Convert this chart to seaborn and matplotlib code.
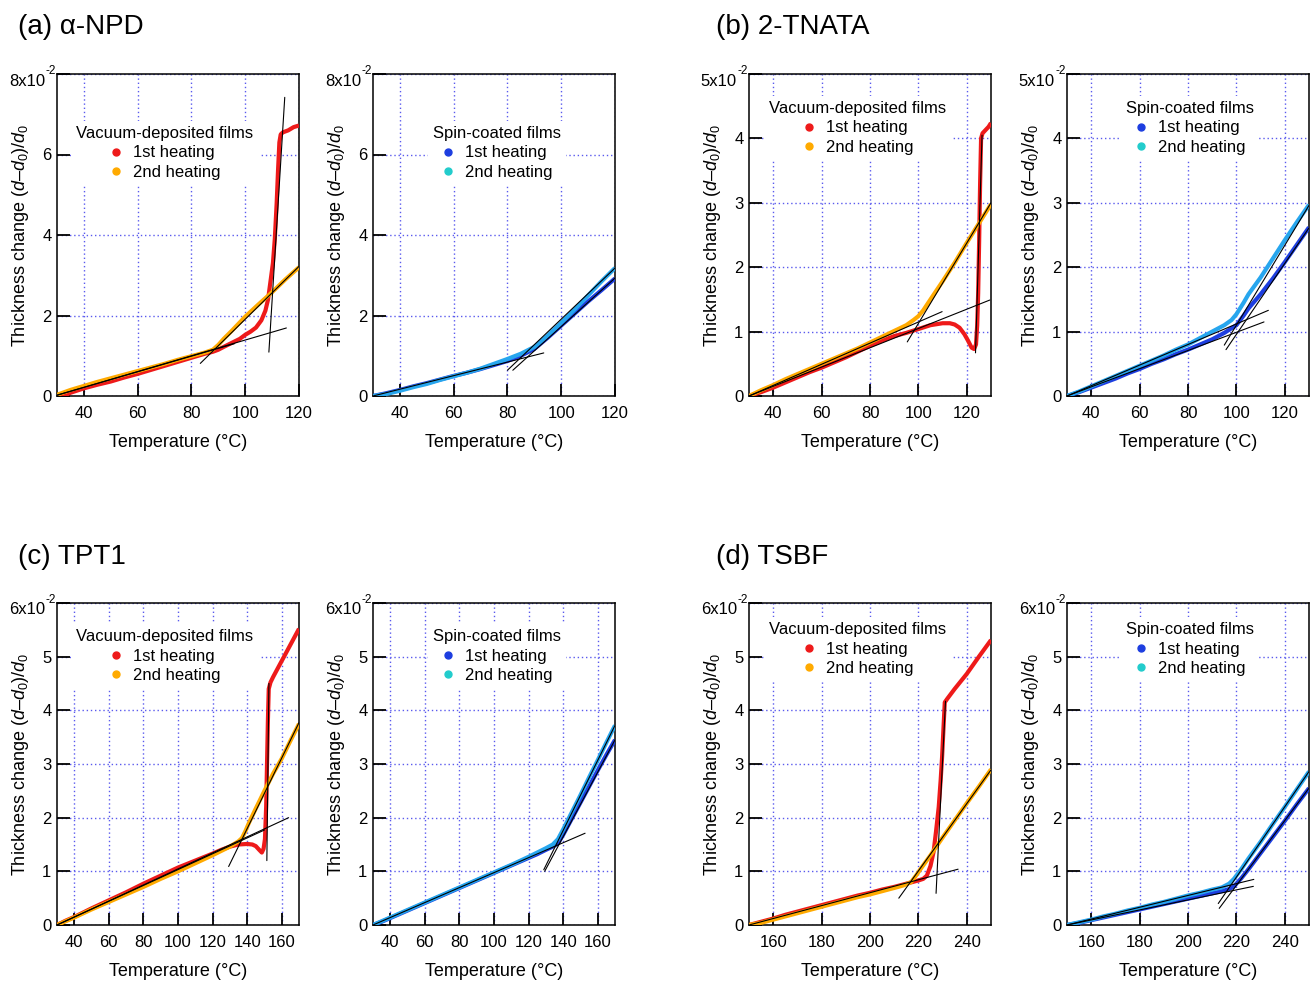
import matplotlib
matplotlib.use("Agg")
import matplotlib.pyplot as plt
from matplotlib.lines import Line2D
from matplotlib.ticker import FixedLocator, FixedFormatter
import pandas as pd
import seaborn as sns

# ---------------------------------------------------------------------------
# Thickness change (d - d0)/d0, stored in units of 1e-2, versus temperature (°C)
# ---------------------------------------------------------------------------

# (a) alpha-NPD, vacuum-deposited
npd_vac1_T = [30, 33, 35, 40, 45, 50, 55, 60, 65, 70, 75, 80, 85, 88, 90, 92, 95, 98, 100,
              102, 104, 106, 107.5, 108.5, 109.5, 110.3, 111, 111.7, 112.2, 112.7, 113.2,
              114, 116, 118, 120]
npd_vac1_y = [0.0, 0.02, 0.08, 0.19, 0.28, 0.36, 0.46, 0.55, 0.65, 0.75, 0.85, 0.95, 1.05,
              1.1, 1.15, 1.22, 1.32, 1.42, 1.52, 1.6, 1.7, 1.88, 2.12, 2.4, 2.9, 3.3, 3.9,
              4.8, 5.6, 6.3, 6.5, 6.55, 6.6, 6.68, 6.72]
npd_vac2_T = [30, 35, 40, 45, 50, 55, 60, 65, 70, 75, 80, 85, 88, 90, 92, 95, 100, 105, 110,
              115, 120]
npd_vac2_y = [0.03, 0.15, 0.25, 0.35, 0.44, 0.53, 0.62, 0.71, 0.8, 0.9, 0.99, 1.08, 1.15,
              1.27, 1.42, 1.62, 1.97, 2.28, 2.58, 2.9, 3.2]
npd_vac_fit_T = [[30, 115.3], [30, 96], [83.3, 120], [108.8, 114.7]]
npd_vac_fit_y = [[0.02, 1.69], [0.02, 1.3], [0.81, 3.22], [1.09, 7.42]]

# (a) alpha-NPD, spin-coated
npd_spin1_T = [30, 35, 40, 45, 50, 55, 60, 65, 70, 75, 80, 85, 90, 95, 100, 105, 110, 115, 120]
npd_spin1_y = [0.0, 0.07, 0.15, 0.24, 0.32, 0.41, 0.5, 0.58, 0.67, 0.77, 0.87, 1.0, 1.17,
               1.45, 1.75, 2.05, 2.35, 2.63, 2.92]
npd_spin2_T = [30, 35, 40, 45, 50, 55, 60, 65, 70, 75, 80, 85, 90, 95, 100, 105, 110, 115, 120]
npd_spin2_y = [0.0, 0.05, 0.13, 0.22, 0.3, 0.4, 0.49, 0.58, 0.68, 0.8, 0.92, 1.05, 1.22,
               1.5, 1.82, 2.15, 2.5, 2.85, 3.18]
npd_spin_fit_T = [[30, 93.5], [80, 120], [82, 120]]
npd_spin_fit_y = [[0.0, 1.07], [0.64, 3.18], [0.64, 2.93]]

# (b) 2-TNATA, vacuum-deposited
tnata_vac1_T = [30, 35, 40, 45, 50, 55, 60, 65, 70, 75, 80, 85, 90, 95, 100, 105, 110, 113,
                115, 117, 119, 120.5, 122, 123, 123.8, 124.3, 124.7, 125.1, 125.5, 125.9,
                126.5, 127.5, 129, 130]
tnata_vac1_y = [0.0, 0.06, 0.13, 0.21, 0.29, 0.37, 0.44, 0.52, 0.6, 0.69, 0.78, 0.86, 0.93,
                0.98, 1.04, 1.1, 1.13, 1.13, 1.11, 1.06, 0.96, 0.86, 0.75, 0.73, 0.8, 1.1,
                1.6, 2.4, 3.3, 4.0, 4.08, 4.12, 4.18, 4.24]
tnata_vac2_T = [30, 35, 40, 45, 50, 55, 60, 65, 70, 75, 80, 85, 90, 95, 98, 100, 102, 105,
                110, 115, 120, 125, 130]
tnata_vac2_y = [0.0, 0.09, 0.17, 0.26, 0.34, 0.42, 0.5, 0.58, 0.66, 0.74, 0.83, 0.92, 1.01,
                1.1, 1.18, 1.24, 1.33, 1.5, 1.78, 2.07, 2.38, 2.68, 2.98]
tnata_vac_fit_T = [[30, 109.8], [30, 129.5], [95.4, 130], [123.6, 126.3]]
tnata_vac_fit_y = [[0.0, 1.31], [0.0, 1.49], [0.84, 3.0], [0.67, 4.05]]

# (b) 2-TNATA, spin-coated
tnata_spin1_T = [30, 35, 40, 45, 50, 55, 60, 65, 70, 75, 80, 85, 90, 95, 100, 103, 105, 110,
                 115, 120, 125, 130]
tnata_spin1_y = [0.0, 0.06, 0.13, 0.2, 0.27, 0.35, 0.42, 0.5, 0.57, 0.65, 0.72, 0.8, 0.88,
                 0.98, 1.1, 1.25, 1.36, 1.58, 1.82, 2.08, 2.35, 2.62]
tnata_spin2_T = [30, 35, 40, 45, 50, 55, 60, 65, 70, 75, 80, 85, 90, 95, 98, 100, 103, 105,
                 110, 115, 120, 125, 130]
tnata_spin2_y = [0.0, 0.07, 0.15, 0.23, 0.31, 0.39, 0.47, 0.55, 0.63, 0.72, 0.8, 0.9, 1.0,
                 1.1, 1.18, 1.27, 1.45, 1.58, 1.84, 2.13, 2.42, 2.7, 2.97]
tnata_spin_fit_T = [[30, 113.2], [30, 111.4], [95, 130], [95.7, 130]]
tnata_spin_fit_y = [[0.0, 1.33], [0.0, 1.15], [0.79, 2.96], [0.72, 2.61]]

# (c) TPT1, vacuum-deposited
tpt_vac1_T = [30, 35, 40, 50, 60, 70, 80, 90, 100, 110, 120, 125, 130, 135, 140, 143, 145,
              147, 148.5, 149.5, 150.3, 151, 151.5, 152, 152.5, 153.5, 155, 160, 165, 170]
tpt_vac1_y = [0.0, 0.08, 0.15, 0.31, 0.46, 0.61, 0.77, 0.92, 1.07, 1.2, 1.33, 1.4, 1.46,
              1.5, 1.51, 1.5, 1.47, 1.4, 1.35, 1.42, 1.6, 2.2, 3.0, 3.8, 4.4, 4.52, 4.62,
              4.92, 5.22, 5.52]
tpt_vac2_T = [30, 35, 40, 50, 60, 70, 80, 90, 100, 110, 120, 125, 130, 135, 137, 139, 141,
              145, 150, 155, 160, 165, 170]
tpt_vac2_y = [0.0, 0.07, 0.14, 0.29, 0.43, 0.57, 0.71, 0.86, 1.0, 1.15, 1.3, 1.38, 1.46,
              1.56, 1.62, 1.75, 1.9, 2.17, 2.5, 2.82, 3.1, 3.43, 3.75]
tpt_vac_fit_T = [[30, 164], [30, 150], [129.3, 170], [151.4, 152.6]]
tpt_vac_fit_y = [[0.0, 2.0], [0.0, 1.77], [1.09, 3.77], [1.2, 4.5]]

# (c) TPT1, spin-coated
tpt_spin1_T = [30, 35, 40, 50, 60, 70, 80, 90, 100, 110, 120, 125, 130, 134, 137, 140, 145,
               150, 155, 160, 165, 170]
tpt_spin1_y = [0.0, 0.06, 0.13, 0.27, 0.41, 0.55, 0.69, 0.83, 0.97, 1.11, 1.25, 1.32, 1.4,
               1.46, 1.52, 1.68, 1.98, 2.28, 2.58, 2.88, 3.17, 3.45]
tpt_spin2_T = [30, 35, 40, 50, 60, 70, 80, 90, 100, 110, 120, 125, 130, 134, 137, 140, 145,
               150, 155, 160, 165, 170]
tpt_spin2_y = [0.0, 0.07, 0.14, 0.28, 0.42, 0.56, 0.7, 0.84, 0.98, 1.12, 1.27, 1.35, 1.43,
               1.5, 1.6, 1.78, 2.1, 2.42, 2.75, 3.07, 3.4, 3.72]
tpt_spin_fit_T = [[30, 152.7], [128.8, 170], [129.3, 170]]
tpt_spin_fit_y = [[0.0, 1.71], [1.03, 3.72], [1.0, 3.45]]

# (d) TSBF, vacuum-deposited
tsbf_vac1_T = [150, 155, 160, 165, 170, 175, 180, 185, 190, 195, 200, 205, 210, 215, 220,
               222, 223.5, 225, 226.3, 227.3, 228.4, 229.2, 229.8, 230.4, 230.9, 232, 235,
               240, 245, 250]
tsbf_vac1_y = [0.0, 0.06, 0.12, 0.19, 0.25, 0.31, 0.37, 0.43, 0.49, 0.55, 0.6, 0.66, 0.71,
               0.77, 0.83, 0.86, 0.92, 1.1, 1.37, 1.75, 2.2, 2.7, 3.14, 3.7, 4.15, 4.22,
               4.4, 4.68, 5.0, 5.31]
tsbf_vac2_T = [150, 155, 160, 165, 170, 175, 180, 185, 190, 195, 200, 205, 210, 214, 217,
               219, 221, 225, 230, 235, 240, 245, 250]
tsbf_vac2_y = [0.0, 0.04, 0.1, 0.16, 0.22, 0.28, 0.34, 0.4, 0.46, 0.52, 0.57, 0.63, 0.69,
               0.74, 0.8, 0.92, 1.05, 1.3, 1.63, 1.95, 2.27, 2.58, 2.9]
tsbf_vac_fit_T = [[150, 236.4], [211.9, 250], [227.3, 231.2]]
tsbf_vac_fit_y = [[0.0, 1.04], [0.5, 2.89], [0.59, 4.17]]

# (d) TSBF, spin-coated
tsbf_spin1_T = [150, 155, 160, 165, 170, 175, 180, 185, 190, 195, 200, 205, 210, 214, 217,
                219, 222, 225, 230, 235, 240, 245, 250]
tsbf_spin1_y = [0.0, 0.04, 0.09, 0.14, 0.19, 0.24, 0.29, 0.34, 0.39, 0.44, 0.49, 0.54, 0.59,
                0.63, 0.67, 0.72, 0.87, 1.04, 1.34, 1.64, 1.94, 2.25, 2.55]
tsbf_spin2_T = [150, 155, 160, 165, 170, 175, 180, 185, 190, 195, 200, 205, 210, 214, 217,
                219, 222, 225, 230, 235, 240, 245, 250]
tsbf_spin2_y = [0.0, 0.05, 0.1, 0.16, 0.21, 0.27, 0.32, 0.38, 0.43, 0.49, 0.55, 0.6, 0.66,
                0.7, 0.77, 0.86, 1.04, 1.24, 1.55, 1.88, 2.2, 2.53, 2.86]
tsbf_spin_fit_T = [[150, 227.2], [150, 227], [212.5, 250], [212.9, 250]]
tsbf_spin_fit_y = [[0.0, 0.85], [0.0, 0.72], [0.4, 2.86], [0.31, 2.55]]

# Panel titles, legend text and axis ticks
panel_titles = ["(a) α-NPD", "(b) 2-TNATA", "(c) TPT1", "(d) TSBF"]
legend_titles = ["Vacuum-deposited films", "Spin-coated films"]
series_labels = ["1st heating", "2nd heating"]
xlabel_text = "Temperature (°C)"
ylabel_text = r"Thickness change ($d$–$d_0$)/$d_0$"

xlims = [(30, 120), (30, 130), (30, 170), (150, 250)]
xticks = [[40, 60, 80, 100, 120], [40, 60, 80, 100, 120],
          [40, 60, 80, 100, 120, 140, 160], [160, 180, 200, 220, 240]]
ytops = [8, 5, 6, 6]
yticks = [[0, 2, 4, 6, 8], [0, 1, 2, 3, 4, 5], [0, 1, 2, 3, 4, 5, 6], [0, 1, 2, 3, 4, 5, 6]]
# the top tick carries the scale factor, written as mantissa + exponent
ytick_labels = [["0", "2", "4", "6", ""],
                ["0", "1", "2", "3", "4", ""],
                ["0", "1", "2", "3", "4", "5", ""],
                ["0", "1", "2", "3", "4", "5", ""]]
top_mantissa = ["8x10", "5x10", "6x10", "6x10"]
top_exponent = "-2"

# ---------------------------------------------------------------------------
sns.set_theme(style="white")
plt.rcParams["font.family"] = ["Liberation Sans", "DejaVu Sans"]
plt.rcParams["mathtext.fontset"] = "custom"
plt.rcParams["mathtext.rm"] = "Liberation Sans"
plt.rcParams["mathtext.it"] = "Liberation Sans:italic"

RED, ORANGE = "#ee1a1a", "#ffaa00"
BLUE, SKY = "#1d3ee0", "#27a6ee"
LEG_CYAN = "#22cccc"
GRID = "#5a5aee"

W, H = 1311, 983
fig = plt.figure(figsize=(W / 100, H / 100), dpi=100)
fig.patch.set_facecolor("white")

col_left = [57, 373, 749, 1067]
ax_w = 242
row_top = [74, 603]
ax_h = 322

panels = [
    # (panel index, column, row, kind, series1, series2, fits)
    (0, 0, 0, "vac", (npd_vac1_T, npd_vac1_y), (npd_vac2_T, npd_vac2_y), (npd_vac_fit_T, npd_vac_fit_y)),
    (0, 1, 0, "spin", (npd_spin1_T, npd_spin1_y), (npd_spin2_T, npd_spin2_y), (npd_spin_fit_T, npd_spin_fit_y)),
    (1, 2, 0, "vac", (tnata_vac1_T, tnata_vac1_y), (tnata_vac2_T, tnata_vac2_y), (tnata_vac_fit_T, tnata_vac_fit_y)),
    (1, 3, 0, "spin", (tnata_spin1_T, tnata_spin1_y), (tnata_spin2_T, tnata_spin2_y), (tnata_spin_fit_T, tnata_spin_fit_y)),
    (2, 0, 1, "vac", (tpt_vac1_T, tpt_vac1_y), (tpt_vac2_T, tpt_vac2_y), (tpt_vac_fit_T, tpt_vac_fit_y)),
    (2, 1, 1, "spin", (tpt_spin1_T, tpt_spin1_y), (tpt_spin2_T, tpt_spin2_y), (tpt_spin_fit_T, tpt_spin_fit_y)),
    (3, 2, 1, "vac", (tsbf_vac1_T, tsbf_vac1_y), (tsbf_vac2_T, tsbf_vac2_y), (tsbf_vac_fit_T, tsbf_vac_fit_y)),
    (3, 3, 1, "spin", (tsbf_spin1_T, tsbf_spin1_y), (tsbf_spin2_T, tsbf_spin2_y), (tsbf_spin_fit_T, tsbf_spin_fit_y)),
]

# legend block centres (figure pixels)
legend_centres = {
    (0, 0): (165, 153), (1, 0): (497, 153), (2, 0): (858, 128), (3, 0): (1190, 128),
    (0, 1): (165, 656), (1, 1): (497, 656), (2, 1): (858, 649), (3, 1): (1190, 649),
}

for pidx, col, row, kind, s1, s2, fits in panels:
    left, top = col_left[col], row_top[row]
    ax = fig.add_axes([left / W, 1 - (top + ax_h) / H, ax_w / W, ax_h / H])
    ax.set_facecolor("white")

    c1, c2 = (RED, ORANGE) if kind == "vac" else (BLUE, SKY)
    leg_c2 = ORANGE if kind == "vac" else LEG_CYAN

    df1 = pd.DataFrame({"T": s1[0], "v": s1[1]})
    df2 = pd.DataFrame({"T": s2[0], "v": s2[1]})
    sns.lineplot(data=df1, x="T", y="v", ax=ax, color=c1, lw=3.0, estimator=None,
                 sort=False, solid_capstyle="butt", zorder=3)
    sns.lineplot(data=df2, x="T", y="v", ax=ax, color=c2, lw=3.0, estimator=None,
                 sort=False, solid_capstyle="butt", zorder=4)
    for fx, fy in zip(fits[0], fits[1]):
        ax.plot(fx, fy, color="black", lw=0.8, zorder=5)

    ax.set_xlim(*xlims[pidx])
    ax.set_ylim(0, ytops[pidx])
    ax.xaxis.set_major_locator(FixedLocator(xticks[pidx]))
    ax.yaxis.set_major_locator(FixedLocator(yticks[pidx]))
    ax.yaxis.set_major_formatter(FixedFormatter(ytick_labels[pidx]))

    ax.grid(True, color=GRID, linestyle=(0, (1, 2)), lw=1.0, zorder=0)
    ax.set_axisbelow(True)
    for sp in ax.spines.values():
        sp.set_color("black")
        sp.set_linewidth(1.1)
        sp.set_visible(True)

    ax.tick_params(axis="both", direction="in", length=9, width=1.3, color="black",
                   labelsize=12, labelcolor="black", top=False, right=False,
                   bottom=True, left=True)
    ax.tick_params(axis="x", pad=7)
    ax.tick_params(axis="y", pad=4)

    # scale factor at the top of the y axis
    ax.text(-12 / ax_w, 1 - 7 / ax_h, top_mantissa[pidx], transform=ax.transAxes,
            ha="right", va="center", fontsize=12, color="black")
    ax.text(-12 / ax_w, 1 + 3 / ax_h, top_exponent, transform=ax.transAxes,
            ha="left", va="center", fontsize=8.5, color="black")

    ax.set_xlabel(xlabel_text, fontsize=13, color="black", va="top")
    ax.set_ylabel(ylabel_text, fontsize=13, color="black")
    ax.xaxis.set_label_coords(0.5, -38 / ax_h)
    ax.yaxis.set_label_coords(-26 / ax_w, 0.5)

    handles = [Line2D([], [], marker="o", ls="", color=c1, markersize=5),
               Line2D([], [], marker="o", ls="", color=leg_c2, markersize=5)]
    cx, cy = legend_centres[(col, row)]
    leg = ax.legend(handles, series_labels,
                    title=legend_titles[0] if kind == "vac" else legend_titles[1],
                    loc="center", bbox_to_anchor=(cx / W, 1 - cy / H),
                    bbox_transform=fig.transFigure, frameon=True, fancybox=False,
                    facecolor="white", edgecolor="none", framealpha=1.0,
                    fontsize=12, title_fontsize=12, labelspacing=0.25,
                    handlelength=0.8, handletextpad=0.6, borderpad=0.3,
                    borderaxespad=0)
    leg.get_title().set_color("black")
    for t in leg.get_texts():
        t.set_color("black")
    leg.set_zorder(6)

title_pos = [(18, 27), (716, 27), (18, 557), (716, 557)]
for txt, (tx, ty) in zip(panel_titles, title_pos):
    fig.text(tx / W, 1 - ty / H, txt, fontsize=20, ha="left", va="center", color="black")

fig.savefig("out.png", dpi=100, facecolor="white")
